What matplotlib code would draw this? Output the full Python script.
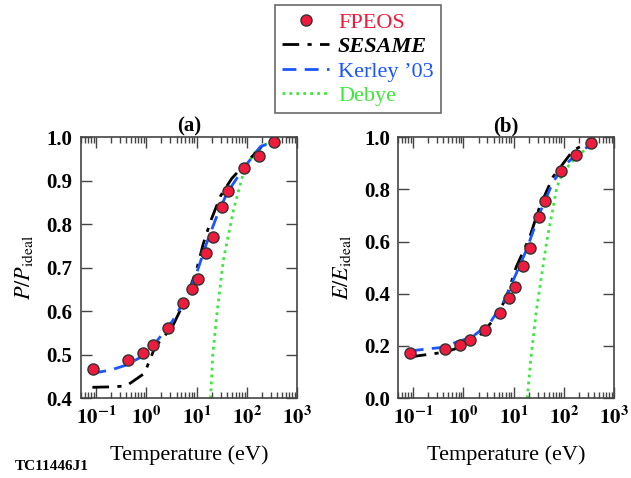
import numpy as np
import matplotlib
matplotlib.use('Agg')
import matplotlib.pyplot as plt
from matplotlib.ticker import FixedLocator, FuncFormatter, LogLocator, NullFormatter
from matplotlib.lines import Line2D

plt.rcParams['font.family'] = ['Liberation Serif', 'DejaVu Serif']
plt.rcParams['mathtext.fontset'] = 'stix'

# FPEOS points (temperature in eV)
fpeos_T = [0.0862, 0.431, 0.862, 1.35, 2.69, 5.39, 8.2, 10.77, 15.5, 21.5, 32.3, 43.1, 86.2, 172.3, 344.7]
fpeos_P = [0.468, 0.487, 0.504, 0.522, 0.562, 0.619, 0.650, 0.675, 0.733, 0.771, 0.840, 0.877, 0.930, 0.956, 0.989]
fpeos_E = [0.174, 0.189, 0.203, 0.222, 0.261, 0.327, 0.384, 0.426, 0.506, 0.576, 0.695, 0.755, 0.870, 0.931, 0.978]

# panel (a) curves
kerley_T_a = [0.085, 0.2, 0.4, 0.86, 1.5, 3.4, 6.3, 10, 15.8, 25, 40, 85, 185, 350]
kerley_P = [0.457, 0.465, 0.476, 0.497, 0.526, 0.579, 0.633, 0.687, 0.756, 0.817, 0.871, 0.928, 0.978, 0.991]
sesame_T_a = [0.085, 0.2, 0.4, 0.92, 1.5, 3.3, 6.3, 10, 13.6, 19.5, 30, 50, 95, 200, 350]
sesame_P = [0.425, 0.426, 0.428, 0.457, 0.518, 0.564, 0.632, 0.695, 0.755, 0.81, 0.865, 0.905, 0.94, 0.98, 0.995]
debye_T_a = [19, 21, 25, 34, 54, 83, 135, 250, 380]
debye_P = [0.4, 0.5, 0.587, 0.717, 0.832, 0.913, 0.962, 0.985, 0.993]

# panel (b) curves
kerley_T_b = [0.085, 0.35, 1.5, 3.3, 6.1, 11.3, 17.9, 33, 61, 112, 209, 380]
kerley_E = [0.181, 0.194, 0.235, 0.286, 0.363, 0.478, 0.567, 0.708, 0.829, 0.899, 0.944, 0.976]
sesame_T_b = [0.085, 0.45, 1.0, 2.0, 4.0, 7, 11.3, 21, 33, 61, 154, 380]
sesame_E = [0.158, 0.177, 0.20, 0.235, 0.30, 0.38, 0.503, 0.618, 0.733, 0.848, 0.95, 0.988]
debye_T_b = [18.7, 22, 28.5, 45, 73, 100, 200, 380]
debye_E = [0.0, 0.15, 0.337, 0.593, 0.81, 0.87, 0.935, 0.97]

red = '#ee1b3c'
blue = '#1a55ff'
green = '#3ce83c'
spine = '#444444'


def log_fmt(x, pos):
	e = int(round(np.log10(x)))
	return r'$\mathbf{10^{%d}}$' % e


def style_axes(ax, ylim, yticks, ylabel, title):
	ax.set_xscale('log')
	ax.set_xlim(0.05, 1000)
	ax.set_ylim(*ylim)
	ax.yaxis.set_major_locator(FixedLocator(yticks))
	ax.yaxis.set_major_formatter(FuncFormatter(lambda v, p: '%.1f' % v))
	ax.xaxis.set_major_locator(LogLocator(base=10, numticks=10))
	ax.xaxis.set_minor_locator(LogLocator(base=10, subs=np.arange(2, 10), numticks=20))
	ax.xaxis.set_minor_formatter(NullFormatter())
	ax.xaxis.set_major_formatter(FuncFormatter(log_fmt))
	ax.tick_params(which='both', direction='in', top=True, right=True, color=spine, width=1)
	ax.tick_params(which='major', length=8, labelsize=15, pad=6)
	ax.tick_params(which='minor', length=4)
	for lab in ax.get_yticklabels():
		lab.set_fontweight('bold')
	for s in ax.spines.values():
		s.set_color(spine)
		s.set_linewidth(1.2)
	ax.set_xlabel('Temperature (eV)', fontsize=16, labelpad=12)
	ax.set_ylabel(ylabel, fontsize=16, labelpad=8)
	ax.set_title(title, fontsize=15, fontweight='bold', pad=4)


fig = plt.figure(figsize=(6.31, 4.78), dpi=100)
ax1 = fig.add_axes([0.128, 0.167, 0.343, 0.546])
ax2 = fig.add_axes([0.631, 0.167, 0.342, 0.546])

kw_pts = dict(ls='none', marker='o', ms=8, mfc=red, mec='#333333', mew=1, zorder=5)
for ax, yv, kT, kv, sT, sv, dT, dv in [
		(ax1, fpeos_P, kerley_T_a, kerley_P, sesame_T_a, sesame_P, debye_T_a, debye_P),
		(ax2, fpeos_E, kerley_T_b, kerley_E, sesame_T_b, sesame_E, debye_T_b, debye_E)]:
	ax.plot(dT, dv, color=green, lw=2, ls=(0, (1, 1.5)))
	ax.plot(sT, sv, color='black', lw=2, ls=(0, (6, 3, 1.5, 3)))
	ax.plot(kT, kv, color=blue, lw=2, ls=(0, (5, 3)))
	ax.plot(fpeos_T, yv, **kw_pts)

style_axes(ax1, (0.4, 1.0), np.arange(0.4, 1.01, 0.1), r'$\mathit{P/P}_{\mathrm{ideal}}$', '(a)')
style_axes(ax2, (0.0, 1.0), np.arange(0.0, 1.01, 0.2), r'$\mathit{E/E}_{\mathrm{ideal}}$', '(b)')

handles = [
	Line2D([], [], ls='none', marker='o', ms=8, mfc=red, mec='#333333', mew=1),
	Line2D([], [], color='black', lw=2, ls=(0, (6, 3, 1.5, 3))),
	Line2D([], [], color=blue, lw=2, ls=(0, (5, 3))),
	Line2D([], [], color=green, lw=2, ls=(0, (1, 1.5))),
]
labels = ['FPEOS', 'SESAME', 'Kerley \u201903', 'Debye']
leg = fig.legend(handles, labels, loc='upper left', bbox_to_anchor=(275 / 631, 1 - 5 / 478),
	borderaxespad=0, fontsize=16, frameon=True, fancybox=False, handlelength=2.1,
	handletextpad=0.4, labelspacing=0.17, borderpad=0.33, edgecolor=spine)
leg.get_frame().set_linewidth(1.2)
for txt, c in zip(leg.get_texts(), [red, 'black', blue, green]):
	txt.set_color(c)
leg.get_texts()[1].set_fontstyle('italic')
leg.get_texts()[1].set_fontweight('bold')

fig.text(15 / 631, 1 - 467 / 478, 'TC11446J1', fontsize=11, fontweight='bold', va='center')

fig.savefig('out.png', dpi=100)
